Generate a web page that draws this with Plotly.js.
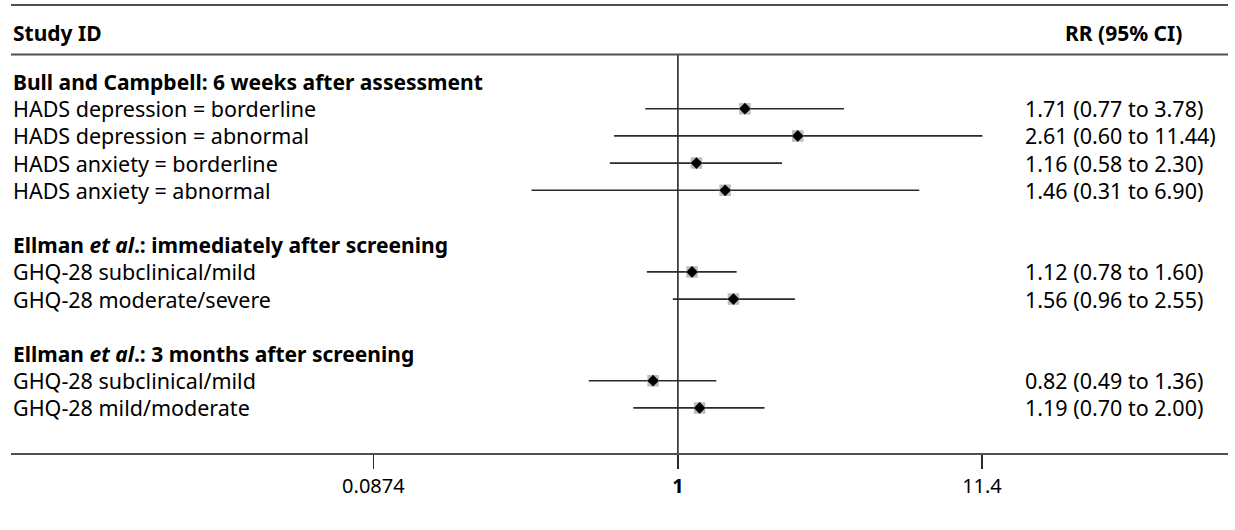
<!DOCTYPE html>
<html>
<head>
<meta charset="utf-8">
<script src="https://cdn.plot.ly/plotly-3.0.1.min.js"></script>
<style>html,body{margin:0;padding:0;background:#fff;}#chart{width:1235px;height:530px;}</style>
</head>
<body>
<div id="chart"></div>
<script>
// ---- data ----
const groupTitles = [
  '<b>Bull and Campbell: 6 weeks after assessment</b>',
  '<b>Ellman <i>et al</i>.: immediately after screening</b>',
  '<b>Ellman <i>et al</i>.: 3 months after screening</b>'
];
const groupSizes = [4, 2, 2];
const studyLabels = [
  'HADS depression = borderline',
  'HADS depression = abnormal',
  'HADS anxiety = borderline',
  'HADS anxiety = abnormal',
  'GHQ-28 subclinical/mild',
  'GHQ-28 moderate/severe',
  'GHQ-28 subclinical/mild',
  'GHQ-28 mild/moderate'
];
const rr    = [1.71, 2.61, 1.16, 1.46, 1.12, 1.56, 0.82, 1.19];
const lower = [0.77, 0.60, 0.58, 0.31, 0.78, 0.96, 0.49, 0.70];
const upper = [3.78, 11.44, 2.30, 6.90, 1.60, 2.55, 1.36, 2.00];
const ciText = [
  '1.71 (0.77 to 3.78)',
  '2.61 (0.60 to 11.44)',
  '1.16 (0.58 to 2.30)',
  '1.46 (0.31 to 6.90)',
  '1.12 (0.78 to 1.60)',
  '1.56 (0.96 to 2.55)',
  '0.82 (0.49 to 1.36)',
  '1.19 (0.70 to 2.00)'
];
const tickVals = [0.0874, 1, 11.4];
const tickText = ['0.0874', '<b>1</b>', '11.4'];
const headerLeft = '<b>Study ID</b>';
const headerRight = '<b>RR (95% CI)</b>';

// ---- layout helpers ----
const FONT = 'Noto Sans, Open Sans, sans-serif';
const FS = 21.5, FSB = 21;
const W = 1235, H = 530, ML = 11, MR = 7, MT = 5, MB = 77;
const PW = W - ML - MR;
const ROW0 = 81.5, ROWH = 27.2;            // pixel of first row, row pitch
const kOf = px => (px - ROW0) / ROWH;
const paperX = px => (px - ML) / PW;

// row positions
const headerY = [], studyY = [];
let k = 0;
groupSizes.forEach((n) => {
  headerY.push(k);
  for (let i = 0; i < n; i++) studyY.push(k + 1 + i);
  k += n + 2;
});

// CI line trace
const ciX = [], ciY = [];
rr.forEach((v, i) => { ciX.push(lower[i], upper[i], null); ciY.push(studyY[i], studyY[i], null); });

const yTop = kOf(MT), yBot = kOf(H - MB);

const traces = [
  { x: [1, 1], y: [kOf(54.5), yBot], mode: 'lines', line: {color: '#2a2a2a', width: 1.6},
    hoverinfo: 'skip', showlegend: false, cliponaxis: false },
  { x: ciX, y: ciY, mode: 'lines', line: {color: '#2a2a2a', width: 1.6},
    hoverinfo: 'skip', showlegend: false },
  { x: rr, y: studyY, mode: 'markers', marker: {symbol: 'square', size: 10, color: '#bdbdbd',
    line: {color: '#bdbdbd', width: 1.5}}, hoverinfo: 'skip', showlegend: false },
  { x: rr, y: studyY, mode: 'markers', marker: {symbol: 'diamond', size: 9, color: '#000'},
    showlegend: false }
];

const annotations = [];
const ann = (text, x, y, xanchor, size) => annotations.push({
  text, x, y, xref: 'paper', yref: 'y', xanchor, yanchor: 'middle',
  showarrow: false, font: {family: FONT, size: size, color: '#000'}
});
ann(headerLeft, 0, kOf(33), 'left', FSB);
ann(headerRight, paperX(1123), kOf(33), 'center', FSB);
groupTitles.forEach((t, g) => ann(t, 0, headerY[g], 'left', FSB));
studyLabels.forEach((t, i) => ann(t, 0, studyY[i], 'left', FS));
ciText.forEach((t, i) => ann(t, paperX(1023), studyY[i], 'left', FS));

const shapes = [
  { type: 'line', xref: 'paper', yref: 'paper', x0: 0, x1: 1, y0: 1, y1: 1,
    line: {color: '#505050', width: 2} },
  { type: 'line', xref: 'paper', yref: 'y', x0: 0, x1: 1, y0: kOf(54.5), y1: kOf(54.5),
    line: {color: '#505050', width: 2} }
];

// x range: 1 at px 677.9, 287.7 px per decade
const C = 677.9, PPD = 287.7;
const xr = [(ML - C) / PPD, (W - MR - C) / PPD];

const layout = {
  width: W, height: H,
  margin: {l: ML, r: MR, t: MT, b: MB},
  paper_bgcolor: '#fff', plot_bgcolor: '#fff',
  font: {family: FONT, size: FS, color: '#000'},
  xaxis: {
    type: 'log', range: xr, showgrid: false, zeroline: false,
    showline: true, linecolor: '#505050', linewidth: 2,
    ticks: 'outside', ticklen: 14, tickwidth: 1.6, tickcolor: '#2a2a2a',
    tickmode: 'array', tickvals: tickVals, ticktext: tickText,
    tickfont: {family: FONT, size: 20, color: '#000'}
  },
  yaxis: { range: [yBot, yTop], showgrid: false, zeroline: false, showline: false,
    showticklabels: false, ticks: '' },
  shapes, annotations,
  showlegend: false
};

Plotly.newPlot('chart', traces, layout, {staticPlot: true, displayModeBar: false});
</script>
</body>
</html>
